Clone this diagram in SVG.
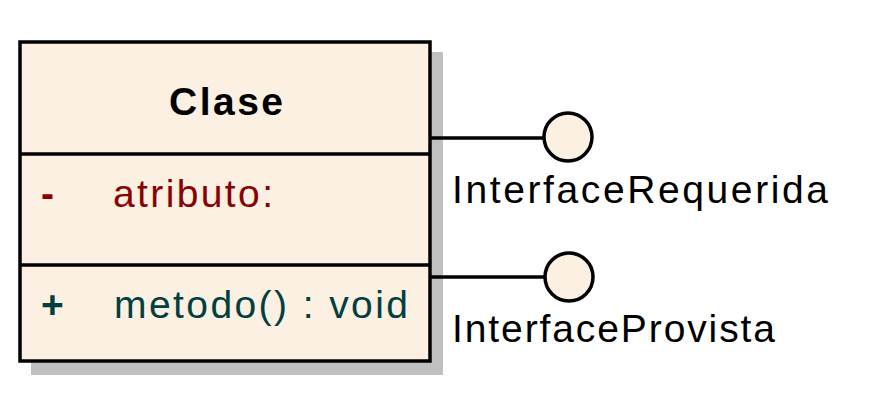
<svg xmlns="http://www.w3.org/2000/svg" width="877" height="409" viewBox="0 0 877 409">
<style>
.fill{fill:#FBF0E2;stroke:#000;stroke-width:3.5}
.shadow{fill:#C0C0C0}
.line{stroke:#000;stroke-width:3.5;fill:none}
.t{font-family:"Liberation Sans",Arial,sans-serif;font-size:39px}
.b{font-weight:bold;font-size:39px}
.attr{fill:#8B0000}
.op{fill:#004040}
.lbl{fill:#000}
</style>
<rect width="877" height="409" fill="#fff"/>
<g id="Clase">
<rect class="shadow" x="31" y="52" width="412" height="323"/>
<rect class="fill" x="20" y="42" width="410" height="319"/>
<line class="line" x1="20" y1="154" x2="430" y2="154"/>
<line class="line" x1="20" y1="265" x2="430" y2="265"/>
<text class="t b" x="169" y="115" textLength="114">Clase</text>
<text class="t attr" x="41" y="207" font-weight="bold">-</text>
<text class="t attr" x="113" y="207" textLength="160">atributo:</text>
<text class="t op" x="41" y="318" font-weight="bold">+</text>
<text class="t op" x="114" y="318" textLength="294">metodo() : void</text>
</g>
<g id="connectors">
<line class="line" x1="430" y1="138" x2="544" y2="138"/>
<line class="line" x1="430" y1="277" x2="544" y2="277"/>
</g>
<g id="InterfaceRequerida">
<circle class="fill" cx="568" cy="137" r="24" stroke-width="3"/>
<text class="t lbl" x="452" y="203" textLength="376">InterfaceRequerida</text>
</g>
<g id="InterfaceProvista">
<circle class="fill" cx="569" cy="277" r="24" stroke-width="3"/>
<text class="t lbl" x="452" y="342" textLength="323">InterfaceProvista</text>
</g>
</svg>
